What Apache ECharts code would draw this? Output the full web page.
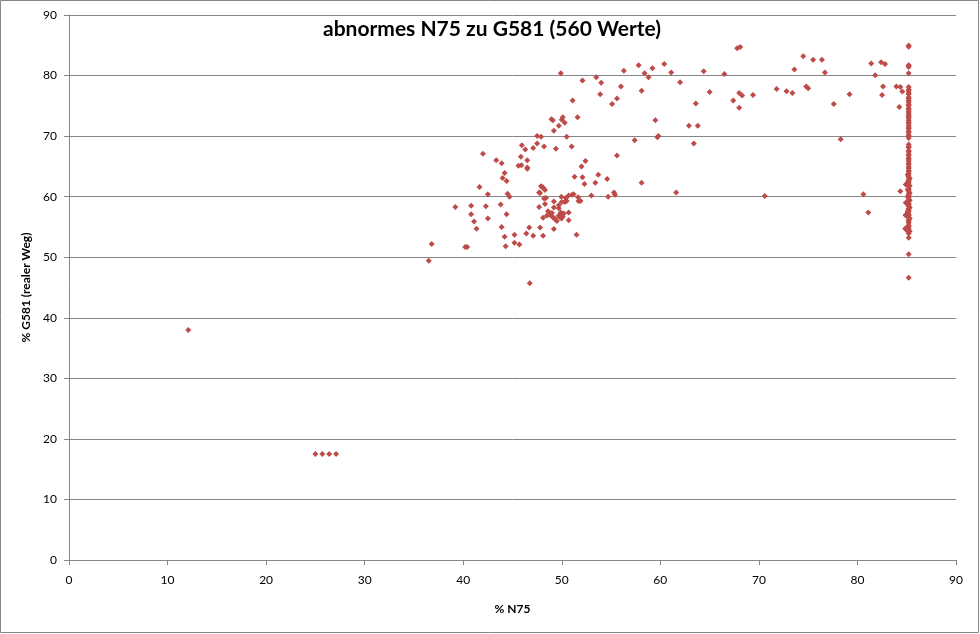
<!DOCTYPE html>
<html>
<head>
<meta charset="utf-8">
<script src="https://cdn.jsdelivr.net/npm/echarts@6/dist/echarts.min.js"></script>
<style>
html,body{margin:0;padding:0;background:#fff;}
#chart{width:980px;height:634px;}
</style>
</head>
<body>
<div id="chart"></div>
<script>
// Scattered points (N75 %, G581 %)
var n75 = [
 12.1, 25.0, 25.7, 26.4, 27.1, 36.8, 36.5,
 42.0, 43.35, 43.9, 44.2, 44.0, 44.4, 41.65, 42.5, 44.5, 44.7, 39.2, 40.8, 42.3, 43.8,
 40.8, 44.4, 41.1, 42.5, 41.35, 43.9, 45.2, 44.2, 45.2, 44.3, 45.7, 40.2, 40.4,
 45.6, 45.95, 46.3, 47.5, 47.1, 48.2, 49.4, 51.0, 45.85, 46.5, 45.9, 46.5, 46.5,
 52.4, 52.0, 51.3, 52.1, 52.3, 53.4, 53.7, 47.9, 48.1, 47.7, 48.3, 48.4, 48.2, 48.3,
 47.7, 49.2, 49.2, 49.7, 49.95, 50.4, 50.5, 50.3, 50.7, 51.05, 51.2, 51.65, 51.7, 51.9,
 53.0, 46.4, 46.7, 47.1, 48.1, 47.8, 49.2, 48.6, 48.8, 48.5, 49.0, 49.1, 49.25, 49.5,
 48.1, 49.7, 49.9, 50.0, 50.2, 49.97, 50.7, 50.7, 51.5, 46.75,
 49.76, 49.3, 48.9, 50.1, 49.7, 50.0, 48.0, 47.8,
 49.9, 52.1, 53.5, 54.0, 53.9, 55.1, 55.6, 51.1, 51.6, 48.95, 49.1, 50.1, 50.0, 50.3,
 49.7, 49.2, 47.5, 47.9, 50.5, 55.6, 54.6, 55.3, 55.4, 54.7,
 56.3, 57.8, 58.4, 59.2, 60.4, 58.8, 61.1, 62.0, 56.0, 58.1, 59.5, 59.8, 59.7, 57.4,
 63.6, 62.9, 63.8, 63.4, 64.4, 66.5, 65.0, 58.1, 61.6,
 67.8, 68.1, 67.4, 68.0, 68.3, 68.0, 69.4, 71.8, 72.8, 73.4, 73.6, 74.5, 74.8, 75.0,
 75.5, 76.4, 76.7, 77.6, 79.2, 78.3, 70.6, 80.6, 81.4, 81.8, 82.4, 82.8, 82.6, 82.5,
 83.95, 84.35, 84.55, 84.25, 81.1, 84.35, 84.9,
 85.2, 85.2, 85.2, 85.2, 85.2, 85.2, 85.2, 85.2, 85.2,
 84.9, 84.85, 85.0, 85.3, 84.9, 84.9, 84.9
];
var g581 = [
 38.0, 17.5, 17.5, 17.5, 17.5, 52.2, 49.4,
 67.1, 66.0, 65.5, 63.9, 63.1, 62.6, 61.6, 60.4, 60.5, 60.0, 58.3, 58.5, 58.4, 58.7,
 57.1, 57.1, 55.9, 56.4, 54.7, 55.0, 53.7, 53.4, 52.4, 51.8, 52.1, 51.7, 51.7,
 65.1, 68.5, 67.8, 68.8, 68.05, 68.3, 67.9, 68.3, 66.6, 66.0, 65.2, 64.8, 64.6,
 65.9, 65.0, 63.3, 63.2, 62.1, 62.3, 63.6, 61.7, 61.5, 60.7, 61.1, 59.8, 59.7, 58.8,
 58.3, 59.2, 58.2, 58.6, 60.0, 59.8, 59.3, 59.1, 60.2, 60.3, 60.4, 59.9, 59.3, 59.3,
 60.2, 53.9, 54.9, 53.55, 53.55, 54.9, 54.65, 57.6, 57.0, 56.9, 57.3, 56.6, 56.4, 56.0,
 56.5, 56.9, 57.4, 56.7, 57.2, 56.4, 57.4, 56.1, 53.7, 45.7,
 56.7, 56.4, 57.2, 56.7, 58.1, 59.1, 61.6, 60.6,
 80.4, 79.2, 79.7, 78.8, 76.9, 75.3, 76.2, 75.9, 73.1, 72.8, 72.6, 73.1, 72.7, 72.2,
 71.7, 70.9, 70.0, 69.9, 69.9, 66.8, 62.9, 60.7, 60.3, 60.0,
 80.8, 81.7, 80.4, 81.2, 81.9, 79.7, 80.5, 78.9, 78.2, 77.5, 72.6, 70.0, 69.8, 69.3,
 75.4, 71.7, 71.7, 68.8, 80.7, 80.25, 77.3, 62.3, 60.7,
 84.5, 84.7, 75.9, 77.1, 76.7, 74.7, 76.8, 77.8, 77.4, 77.1, 81.0, 83.2, 78.2, 77.9,
 82.6, 82.6, 80.5, 75.3, 76.9, 69.5, 60.1, 60.4, 82.0, 80.05, 82.2, 81.9, 78.2, 76.8,
 78.2, 78.1, 77.35, 74.8, 57.4, 60.9, 62.0,
 84.96, 84.75, 81.65, 81.7, 81.4, 80.4, 53.2, 50.5, 46.6,
 56.9, 54.7, 54.5, 54.3, 59.0, 57.0, 54.8
];
// Dense vertical column of readings at N75 ≈ 85.2
var columnN75 = 85.2;
var columnG581 = [
 78.1, 77.7, 77.5, 77.1, 76.9, 76.4, 76.2, 75.9, 75.6, 75.2, 75.0, 74.6, 74.4, 74.1,
 73.8, 73.5, 73.2, 73.0, 72.6, 72.3, 72.1, 71.7, 71.4, 71.2, 70.8, 70.6, 70.2, 70.0,
 69.7, 68.6, 68.3, 68.1, 67.6, 67.4, 67.0, 66.8, 66.4, 66.2, 65.9, 65.5, 65.3, 64.9,
 64.7, 64.3, 64.1, 63.8, 63.4, 63.2, 62.8, 62.6, 62.3, 61.9, 61.7, 61.3, 61.1, 60.8,
 60.4, 60.2, 59.9, 59.5, 59.3, 58.9, 58.7, 58.4, 58.0, 57.8, 57.5, 57.1, 56.9, 56.6,
 56.2, 56.0, 55.7, 55.3, 55.1, 54.8, 54.4, 54.2, 53.9
];
// Slightly offset readings that thicken the column
var columnEdgeN75 = [85.1, 85.3, 85.1, 85.3, 85.1, 85.3, 85.1, 85.3, 85.1, 85.3, 85.1, 85.3];
var columnEdgeG581 = [63.6, 63.0, 62.4, 61.8, 61.2, 60.6, 60.0, 59.4, 58.8, 58.2, 57.6, 56.4];
var xTicksMax = 90, yTicksMax = 90, tickStep = 10;

var data = [];
for (var i = 0; i < n75.length; i++) data.push([n75[i], g581[i]]);
for (var j = 0; j < columnG581.length; j++) data.push([columnN75, columnG581[j]]);
for (var k = 0; k < columnEdgeN75.length; k++) data.push([columnEdgeN75[k], columnEdgeG581[k]]);

var chart = echarts.init(document.getElementById('chart'), null, {renderer: 'canvas'});
var font = 'Lato, "Open Sans", sans-serif';
chart.setOption({
  animation: false,
  backgroundColor: '#fff',
  title: {
    text: 'abnormes N75 zu G581 (560 Werte)',
    left: 487, top: 14, textAlign: 'center',
    textStyle: {fontFamily: font, fontSize: 21, fontWeight: 'bold', color: '#000'}
  },
  graphic: [{
    type: 'rect', shape: {x: 0.5, y: 0.5, width: 978, height: 632},
    style: {fill: 'none', stroke: '#868686', lineWidth: 1}, silent: true, z: -1
  }],
  grid: {left: 69, right: 24, top: 15, bottom: 74},
  xAxis: {
    type: 'value', min: 0, max: xTicksMax, interval: tickStep,
    name: '% N75', nameLocation: 'middle', nameGap: 43,
    nameTextStyle: {fontFamily: font, fontSize: 12, fontWeight: 'bold', color: '#000'},
    axisLine: {show: true, onZero: false, lineStyle: {color: '#868686', width: 1}},
    axisTick: {show: true, length: 5, lineStyle: {color: '#868686'}},
    axisLabel: {fontFamily: font, fontSize: 12, color: '#000', margin: 14},
    splitLine: {show: false}
  },
  yAxis: {
    type: 'value', min: 0, max: yTicksMax, interval: tickStep,
    name: '% G581 (realer Weg)', nameLocation: 'middle', nameGap: 33,
    nameTextStyle: {fontFamily: font, fontSize: 12, fontWeight: 'bold', color: '#000'},
    axisLine: {show: true, onZero: false, lineStyle: {color: '#868686', width: 1}},
    axisTick: {show: true, length: 5, lineStyle: {color: '#868686'}},
    axisLabel: {fontFamily: font, fontSize: 12, color: '#000', margin: 12},
    splitLine: {show: true, lineStyle: {color: '#868686', width: 1}}
  },
  series: [{
    type: 'scatter',
    data: data,
    symbol: 'diamond',
    symbolSize: 6,
    itemStyle: {color: '#BE4B48', opacity: 1}
  }]
});
</script>
</body>
</html>
